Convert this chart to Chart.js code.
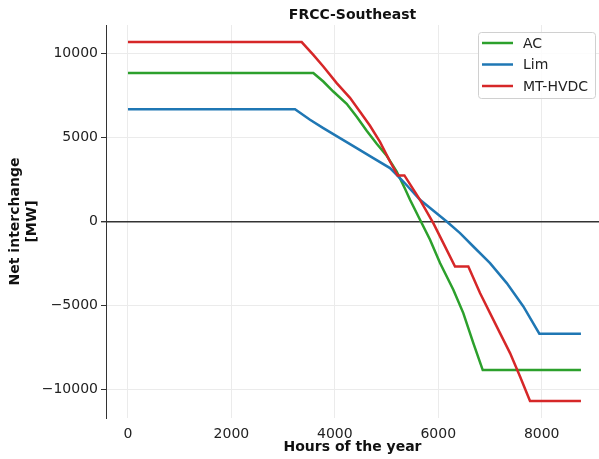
<!DOCTYPE html>
<html>
<head>
<meta charset="utf-8">
<script src="https://cdn.jsdelivr.net/npm/chart.js@4"></script>
<style>
  html, body { margin: 0; padding: 0; background: #fff; }
</style>
</head>
<body>
<canvas id="chart" width="599" height="459"></canvas>
<script>
// values (sorted hourly net interchange, MW)
const acHours = [0, 3584, 3777, 3970, 4229, 4423, 4616, 4810, 5003, 5196, 5357, 5454, 5647, 5841, 6034, 6291, 6484, 6678, 6860, 8759];
const acValues = [8860, 8860, 8348, 7752, 7018, 6244, 5409, 4633, 3918, 2982, 1950, 1294, 101, -1091, -2481, -4073, -5462, -7251, -8860, -8860];

const limHours = [0, 3230, 3520, 3777, 4100, 4423, 4744, 5067, 5324, 5647, 6163, 6421, 6678, 7001, 7324, 7645, 7954, 8759];
const limValues = [6690, 6690, 6064, 5569, 4973, 4377, 3780, 3184, 2385, 1294, 0, -692, -1491, -2481, -3673, -5069, -6690, -6690];

const hvdcHours = [0, 3359, 3584, 3777, 4036, 4293, 4487, 4680, 4873, 5067, 5215, 5345, 5647, 5904, 6098, 6324, 6581, 6807, 7001, 7194, 7388, 7581, 7774, 8759];
const hvdcValues = [10700, 10700, 9940, 9243, 8253, 7376, 6541, 5707, 4752, 3578, 2750, 2750, 1294, -95, -1288, -2683, -2683, -4270, -5462, -6655, -7847, -9243, -10700, -10700];

const seriesNames = ["AC", "Lim", "MT-HVDC"];
const seriesColors = ["#2ca02c", "#1f77b4", "#d62728"];
const xTicks = [0, 2000, 4000, 6000, 8000];
const yTicks = [-10000, -5000, 0, 5000, 10000];

const toPoints = (hours, vals) => hours.map((h, i) => ({ x: h, y: vals[i] }));
const allSeries = [toPoints(acHours, acValues), toPoints(limHours, limValues), toPoints(hvdcHours, hvdcValues)];

const FONT = "DejaVu Sans";
const minus = v => String(v).replace("-", "\u2212");

const boxLegend = {
    id: "boxLegend",
    afterDatasetsDraw(chart) {
        const ctx = chart.ctx;
        ctx.save();
        ctx.beginPath();
        ctx.roundRect(478.5, 32.5, 117, 66, 3);
        ctx.fillStyle = "rgba(255,255,255,0.85)";
        ctx.fill();
        ctx.strokeStyle = "#d0d0d0";
        ctx.lineWidth = 1;
        ctx.stroke();
        ctx.font = "14px " + FONT;
        ctx.textBaseline = "middle";
        seriesNames.forEach((name, i) => {
            const y = 43 + i * 21.5;
            ctx.beginPath();
            ctx.moveTo(482, y);
            ctx.lineTo(513, y);
            ctx.strokeStyle = seriesColors[i];
            ctx.lineWidth = 2.5;
            ctx.stroke();
            ctx.fillStyle = "#222";
            ctx.fillText(name, 523, y + 1);
        });
        ctx.restore();
    }
};

new Chart(document.getElementById("chart"), {
    type: "line",
    data: {
        datasets: allSeries.map((pts, i) => ({
            label: seriesNames[i],
            data: pts,
            borderColor: seriesColors[i],
            backgroundColor: seriesColors[i],
            borderWidth: 2.5,
            pointRadius: 0,
            tension: 0,
            fill: false,
            order: allSeries.length - i
        }))
    },
    options: {
        responsive: false,
        animation: false,
        layout: { padding: 0 },
        plugins: {
            legend: { display: false },
            tooltip: { enabled: false },
            title: {
                display: true, text: "FRCC-Southeast", fullSize: false, color: "#111",
                font: { family: FONT, size: 14, weight: "bold", lineHeight: 1.2 },
                padding: { top: 6.5, bottom: 1.7 }
            }
        },
        scales: {
            x: {
                type: "linear", min: -425, max: 9108,
                afterBuildTicks: s => { s.ticks = xTicks.map(v => ({ value: v })); },
                afterFit: s => { s.height = 41; },
                border: { display: false },
                grid: { color: "#ebebeb", lineWidth: 1, tickLength: 5, tickColor: "rgba(0,0,0,0)" },
                ticks: { font: { family: FONT, size: 14 }, color: "#222", padding: 3, maxRotation: 0, callback: v => minus(v) },
                title: { display: true, text: "Hours of the year", color: "#111",
                    font: { family: FONT, size: 14, weight: "bold", lineHeight: 1.2 }, padding: { top: 0, bottom: 3.6 } }
            },
            y: {
                min: -11720, max: 11720,
                afterBuildTicks: s => { s.ticks = yTicks.map(v => ({ value: v })); },
                afterFit: s => { s.width = 106; },
                border: { display: true, color: "#333", width: 1 },
                grid: {
                    color: c => (c.tick && c.tick.value === 0) ? "#333" : "#ebebeb",
                    lineWidth: c => (c.tick && c.tick.value === 0) ? 1.4 : 1,
                    tickLength: 5, tickColor: "#333"
                },
                ticks: { font: { family: FONT, size: 14 }, color: "#222", padding: 3, callback: v => minus(v) },
                title: { display: true, text: ["Net interchange", "[MW]"], color: "#111",
                    font: { family: FONT, size: 14, weight: "bold", lineHeight: 1.2 }, padding: { top: 7, bottom: 0 } }
            }
        }
    },
    plugins: [boxLegend]
});
</script>
</body>
</html>
